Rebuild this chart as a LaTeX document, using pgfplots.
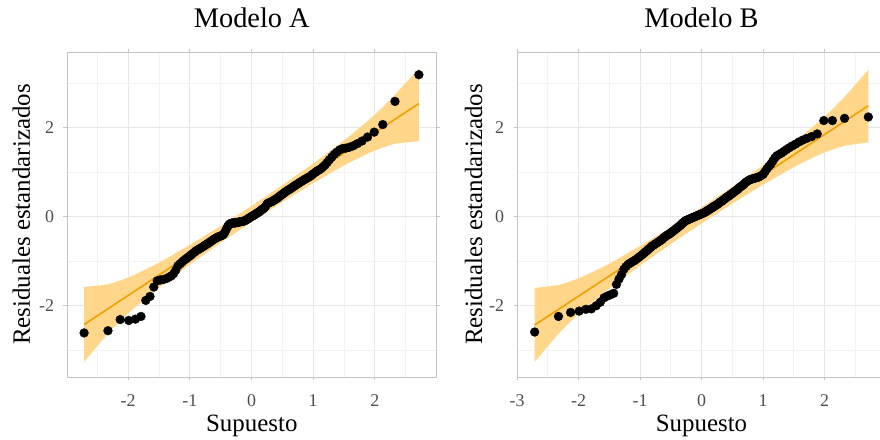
\documentclass[border=0pt]{standalone}
\usepackage{pgfplots}
\pgfplotsset{compat=1.18}
\usepackage{fontspec}
\setmainfont{Liberation Serif}
\definecolor{bandc}{HTML}{FFD68A}
\definecolor{linec}{HTML}{F2A000}
\definecolor{gridmaj}{HTML}{E6E6E6}
\definecolor{gridmin}{HTML}{F2F2F2}
\definecolor{framec}{HTML}{C4C4C4}
\definecolor{tickc}{HTML}{4D4D4D}
\pgfplotsset{
  qq/.style={
    scale only axis, anchor=south west,
    height=325bp, ymin=-3.6, ymax=3.7,
    ytick={-2,0,2}, yticklabels={-2,0,2},
    minor ytick={-3,-1,1,3},
    minor xtick={-2.5,-1.5,-0.5,0.5,1.5,2.5},
    grid=both,
    major grid style={gridmaj, line width=0.9bp},
    minor grid style={gridmin, line width=0.7bp},
    axis line style={framec, line width=1bp},
    tick align=outside, major tick length=3.5bp, minor tick length=0pt,
    tick style={framec, line width=0.9bp},
    ticklabel style={font=\fontsize{18}{20}\selectfont, text=tickc},
    xticklabel style={anchor=base, yshift=-26bp},
    yticklabel style={anchor=east, xshift=-6bp},
    title style={at={([yshift=19bp]axis description cs:0.5,1)}, anchor=base, font=\fontsize{28.5}{30}\selectfont},
    xlabel style={at={([yshift=-54bp]axis description cs:0.5,0)}, anchor=base, font=\fontsize{25}{27}\selectfont},
    xlabel={Supuesto}, ylabel={Residuales estandarizados},
    clip=false,
  }
}
\begin{document}
\begin{tikzpicture}
\useasboundingbox (0,0) rectangle (880bp,440bp);
% ---------------- Modelo A ----------------
\begin{axis}[qq, at={(67bp,63bp)}, width=369.6bp,
  xmin=-2.99, xmax=3.0,
  xtick={-2,-1,0,1,2}, xticklabels={-2,-1,0,1,2},
  title={Modelo A},
  ylabel style={at={([xshift=-37bp]axis description cs:0,0.5)}, anchor=base, rotate=0, font=\fontsize{25}{27}\selectfont},
]
\addplot[fill=bandc, draw=none] coordinates {
(-2.713,-1.58) (-2.326,-1.52) (-2.128,-1.435) (-1.989,-1.36) (-1.881,-1.294) (-1.645,-1.136) (-1.5,-1.033) (-1.0,-0.635) (-0.5,-0.208) (0,0.24) (0.5,0.708) (1.0,1.195) (1.5,1.713) (1.645,1.874) (1.881,2.148) (1.989,2.28) (2.128,2.459) (2.326,2.74) (2.713,3.33)
(2.713,1.70) (2.326,1.64) (2.128,1.555) (1.989,1.48) (1.881,1.414) (1.645,1.256) (1.5,1.153) (1.0,0.755) (0.5,0.328) (0,-0.12) (-0.5,-0.588) (-1.0,-1.075) (-1.5,-1.593) (-1.645,-1.754) (-1.881,-2.028) (-1.989,-2.16) (-2.128,-2.339) (-2.326,-2.62) (-2.713,-3.26)
} -- cycle;
\addplot[linec, line width=1.6bp] coordinates {(-2.713,-2.422) (2.713,2.542)};
\addplot[only marks, mark=*, mark size=4.4bp, mark options={fill=black, draw=black}] coordinates {
(-2.713,-2.61) (-2.326,-2.56) (-2.128,-2.31) (-1.989,-2.33) (-1.881,-2.30) (-1.791,-2.24) (-1.713,-1.88) (-1.645,-1.79) (-1.584,-1.58) (-1.528,-1.44) (-1.476,-1.42) (-1.428,-1.41) (-1.383,-1.39) (-1.341,-1.36) (-1.301,-1.33) (-1.263,-1.28) (-1.227,-1.20) (-1.192,-1.10) (-1.159,-1.06) (-1.126,-1.02) (-1.095,-0.98) (-1.065,-0.95) (-1.036,-0.92) (-1.008,-0.89) (-0.980,-0.86) (-0.954,-0.83) (-0.928,-0.80) (-0.903,-0.77) (-0.878,-0.75) (-0.854,-0.73) (-0.830,-0.71) (-0.806,-0.69) (-0.783,-0.67) (-0.761,-0.65) (-0.739,-0.63) (-0.717,-0.61) (-0.696,-0.59) (-0.674,-0.57) (-0.654,-0.55) (-0.633,-0.53) (-0.613,-0.51) (-0.593,-0.49) (-0.573,-0.48) (-0.553,-0.46) (-0.534,-0.45) (-0.515,-0.44) (-0.496,-0.43) (-0.477,-0.42) (-0.458,-0.40) (-0.440,-0.37) (-0.422,-0.32) (-0.403,-0.27) (-0.385,-0.22) (-0.367,-0.18) (-0.349,-0.16) (-0.332,-0.15) (-0.314,-0.14) (-0.297,-0.14) (-0.279,-0.14) (-0.262,-0.14) (-0.245,-0.13) (-0.228,-0.13) (-0.210,-0.12) (-0.193,-0.12) (-0.176,-0.11) (-0.160,-0.11) (-0.143,-0.10) (-0.126,-0.10) (-0.109,-0.09) (-0.092,-0.08) (-0.075,-0.06) (-0.059,-0.05) (-0.042,-0.03) (-0.025,-0.02) (-0.008,0.00)
(0.008,0.01) (0.025,0.02) (0.042,0.04) (0.059,0.05) (0.075,0.07) (0.092,0.08) (0.109,0.10) (0.126,0.11) (0.143,0.13) (0.160,0.15) (0.176,0.17) (0.193,0.18) (0.210,0.20) (0.228,0.23) (0.245,0.27) (0.262,0.30) (0.279,0.31) (0.297,0.32) (0.314,0.33) (0.332,0.34) (0.349,0.36) (0.367,0.37) (0.385,0.39) (0.403,0.40) (0.422,0.42) (0.440,0.44) (0.458,0.46) (0.477,0.48) (0.496,0.50) (0.515,0.52) (0.534,0.54) (0.553,0.56) (0.573,0.58) (0.593,0.60) (0.613,0.61) (0.633,0.63) (0.654,0.65) (0.674,0.67) (0.696,0.69) (0.717,0.71) (0.739,0.73) (0.761,0.75) (0.783,0.77) (0.806,0.79) (0.830,0.81) (0.854,0.83) (0.878,0.85) (0.903,0.87) (0.928,0.89) (0.954,0.91) (0.980,0.94) (1.008,0.97) (1.036,1.00) (1.065,1.03) (1.095,1.05) (1.126,1.08) (1.159,1.12) (1.192,1.16) (1.227,1.22) (1.263,1.28) (1.301,1.34) (1.341,1.40) (1.383,1.45) (1.428,1.50) (1.476,1.53) (1.528,1.54) (1.584,1.56) (1.645,1.59) (1.713,1.64) (1.791,1.70) (1.881,1.79) (1.989,1.90) (2.128,2.07) (2.326,2.59) (2.713,3.19)
};
\end{axis}
% ---------------- Modelo B ----------------
\begin{axis}[qq, at={(517bp,63bp)}, width=369bp,
  xmin=-3, xmax=3,
  xtick={-3,-2,-1,0,1,2}, xticklabels={-3,-2,-1,0,1,2},
  title={Modelo B},
  ylabel style={at={([xshift=-35bp]axis description cs:0,0.5)}, anchor=base, rotate=0, font=\fontsize{25}{27}\selectfont},
]
\addplot[fill=bandc, draw=none] coordinates {
(-2.713,-1.60) (-2.326,-1.536) (-2.128,-1.45) (-1.989,-1.378) (-1.881,-1.314) (-1.645,-1.157) (-1.5,-1.054) (-1.0,-0.66) (-0.5,-0.236) (0,0.21) (0.5,0.672) (1.0,1.156) (1.5,1.67) (1.645,1.831) (1.881,2.102) (1.989,2.234) (2.128,2.41) (2.326,2.688) (2.713,3.30)
(2.713,1.67) (2.326,1.596) (2.128,1.51) (1.989,1.438) (1.881,1.374) (1.645,1.217) (1.5,1.114) (1.0,0.72) (0.5,0.296) (0,-0.15) (-0.5,-0.612) (-1.0,-1.096) (-1.5,-1.61) (-1.645,-1.771) (-1.881,-2.042) (-1.989,-2.174) (-2.128,-2.354) (-2.326,-2.628) (-2.713,-3.26)
} -- cycle;
\addplot[linec, line width=1.6bp] coordinates {(-2.713,-2.433) (2.713,2.493)};
\addplot[only marks, mark=*, mark size=4.4bp, mark options={fill=black, draw=black}] coordinates {
(-2.713,-2.59) (-2.326,-2.24) (-2.128,-2.15) (-1.989,-2.12) (-1.881,-2.08) (-1.791,-2.07) (-1.713,-2.00) (-1.645,-1.92) (-1.584,-1.82) (-1.528,-1.78) (-1.476,-1.75) (-1.428,-1.72) (-1.383,-1.52) (-1.341,-1.40) (-1.301,-1.30) (-1.263,-1.18) (-1.227,-1.12) (-1.192,-1.07) (-1.159,-1.04) (-1.126,-1.01) (-1.095,-0.99) (-1.065,-0.96) (-1.036,-0.93) (-1.008,-0.90) (-0.980,-0.87) (-0.954,-0.84) (-0.928,-0.81) (-0.903,-0.78) (-0.878,-0.75) (-0.854,-0.72) (-0.830,-0.69) (-0.806,-0.66) (-0.783,-0.64) (-0.761,-0.62) (-0.739,-0.60) (-0.717,-0.58) (-0.696,-0.56) (-0.674,-0.54) (-0.654,-0.52) (-0.633,-0.50) (-0.613,-0.47) (-0.593,-0.45) (-0.573,-0.43) (-0.553,-0.41) (-0.534,-0.40) (-0.515,-0.38) (-0.496,-0.36) (-0.477,-0.34) (-0.458,-0.32) (-0.440,-0.30) (-0.422,-0.28) (-0.403,-0.26) (-0.385,-0.24) (-0.367,-0.22) (-0.349,-0.20) (-0.332,-0.18) (-0.314,-0.15) (-0.297,-0.13) (-0.279,-0.11) (-0.262,-0.09) (-0.245,-0.08) (-0.228,-0.07) (-0.210,-0.06) (-0.193,-0.05) (-0.176,-0.04) (-0.160,-0.03) (-0.143,-0.02) (-0.126,-0.01) (-0.109,0.00) (-0.092,0.01) (-0.075,0.02) (-0.059,0.03) (-0.042,0.04) (-0.025,0.05) (-0.008,0.06)
(0.008,0.07) (0.025,0.08) (0.042,0.09) (0.059,0.10) (0.075,0.12) (0.092,0.13) (0.109,0.15) (0.126,0.16) (0.143,0.18) (0.160,0.19) (0.176,0.21) (0.193,0.22) (0.210,0.24) (0.228,0.25) (0.245,0.27) (0.262,0.28) (0.279,0.30) (0.297,0.32) (0.314,0.34) (0.332,0.35) (0.349,0.37) (0.367,0.39) (0.385,0.41) (0.403,0.43) (0.422,0.45) (0.440,0.46) (0.458,0.48) (0.477,0.50) (0.496,0.52) (0.515,0.54) (0.534,0.56) (0.553,0.58) (0.573,0.60) (0.593,0.62) (0.613,0.65) (0.633,0.67) (0.654,0.69) (0.674,0.71) (0.696,0.74) (0.717,0.77) (0.739,0.79) (0.761,0.81) (0.783,0.83) (0.806,0.84) (0.830,0.85) (0.854,0.86) (0.878,0.87) (0.903,0.88) (0.928,0.89) (0.954,0.91) (0.980,0.93) (1.008,0.96) (1.036,1.02) (1.065,1.08) (1.095,1.13) (1.126,1.18) (1.159,1.25) (1.192,1.32) (1.227,1.37) (1.263,1.40) (1.301,1.43) (1.341,1.47) (1.383,1.51) (1.428,1.55) (1.476,1.59) (1.528,1.63) (1.584,1.68) (1.645,1.72) (1.713,1.76) (1.791,1.80) (1.881,1.86) (1.989,2.16) (2.128,2.16) (2.326,2.21) (2.713,2.24)
};
\end{axis}
\end{tikzpicture}
\end{document}
